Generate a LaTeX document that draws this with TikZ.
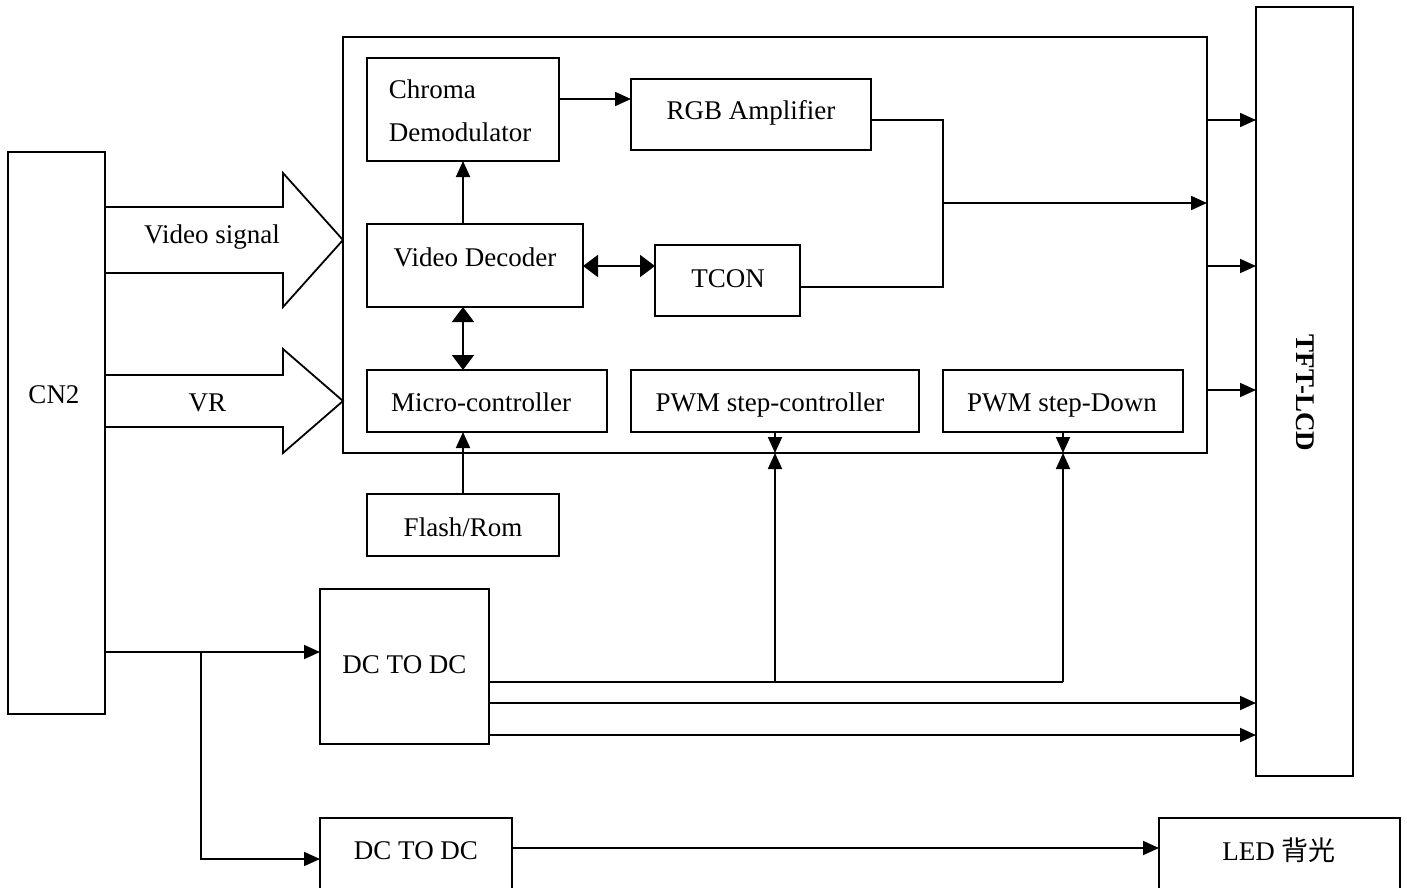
\documentclass[tikz,border=0pt]{standalone}
\usepackage{fontspec}
\setmainfont{Liberation Serif}
\newfontfamily\cjk{Noto Sans CJK SC}
\usetikzlibrary{arrows.meta}
\begin{document}
\begin{tikzpicture}[x=1pt,y=-1pt,
  line width=1.8pt,
  blk/.style={draw, rectangle, inner sep=0pt, outer sep=0pt},
  lbl/.style={font=\fontsize{27}{32}\selectfont, inner sep=0pt, anchor=base},
  arr/.style={-{Triangle[length=16pt,width=14pt]}},
  dbl/.style={{Triangle[length=15pt,width=22pt]}-{Triangle[length=15pt,width=22pt]}},
  bigarrow/.style={draw, line join=miter},
]
\clip (0,0) rectangle (1407,888);
\fill[white] (0,0) rectangle (1407,888);

% ---------- blocks ----------
\node[blk, minimum width=864pt, minimum height=416pt] (main)   at (775,245)    {};
\node[blk, minimum width=192pt, minimum height=103pt] (chroma) at (463,109.5)  {};
\node[blk, minimum width=240pt, minimum height=71pt]  (rgb)    at (751,114.5)  {};
\node[blk, minimum width=216pt, minimum height=83pt]  (vdec)   at (475,265.5)  {};
\node[blk, minimum width=145pt, minimum height=71pt]  (tcon)   at (727.5,280.5){};
\node[blk, minimum width=240pt, minimum height=62pt]  (mcu)    at (487,401)    {};
\node[blk, minimum width=288pt, minimum height=62pt]  (pwmc)   at (775,401)    {};
\node[blk, minimum width=240pt, minimum height=62pt]  (pwmd)   at (1063,401)   {};
\node[blk, minimum width=192pt, minimum height=62pt]  (flash)  at (463,525)    {};
\node[blk, minimum width=97pt,  minimum height=562pt] (cn2)    at (56.5,433)   {};
\node[blk, minimum width=97pt,  minimum height=769pt] (tft)    at (1304.5,391.5){};
\node[blk, minimum width=169pt, minimum height=155pt] (dc1)    at (404.5,666.5){};
\node[blk, minimum width=192pt, minimum height=90pt]  (dc2)    at (416,863)    {};
\node[blk, minimum width=241pt, minimum height=90pt]  (led)    at (1279.5,863) {};

% ---------- labels ----------
\node[lbl, anchor=base west] (tchroma1) at (388,99)  {Chroma};
\node[lbl, anchor=base west] (tchroma2) at (388,141) {Demodulator};
\node[lbl] (trgb)   at (751,120)   {RGB Amplifier};
\node[lbl] (tvdec)  at (475,266)   {Video Decoder};
\node[lbl] (ttcon)  at (728,287)   {TCON};
\node[lbl] (tmcu)   at (481,411)   {Micro-controller};
\node[lbl] (tpwmc)  at (770,411)   {PWM step-controller};
\node[lbl] (tpwmd)  at (1062,411)  {PWM step-Down};
\node[lbl] (tflash) at (463,536)   {Flash/Rom};
\node[lbl] (tcn2)   at (54,403)    {CN2};
\node[lbl] (tdc1)   at (404.5,673) {DC TO DC};
\node[lbl] (tdc2)   at (416,859)   {DC TO DC};
\node[lbl] (tled)   at (1279,860)  {LED {\cjk 背光}};
\node[lbl, font=\fontsize{27}{32}\selectfont\bfseries, anchor=center, rotate=-90] (ttft) at (1305,393) {TFT-LCD};

% ---------- wide input arrows from CN2 ----------
\draw[bigarrow] (cn2.east |- 0,207) -- (283,207) -- (283,173) -- (main.west |- 0,240)
  -- (283,307) -- (283,273) -- (cn2.east |- 0,273);
\draw[bigarrow] (cn2.east |- 0,375) -- (283,375) -- (283,349) -- (main.west |- 0,401)
  -- (283,453) -- (283,427) -- (cn2.east |- 0,427) -- cycle;
\node[lbl] (tvideo) at (212,243) {Video signal};
\node[lbl] (tvr)    at (207.5,411) {VR};

% ---------- signal path inside the controller ----------
\draw[arr] (chroma.east |- 0,99) -- (rgb.west |- 0,99);
\draw[arr] (vdec.north -| chroma.south) -- (chroma.south);
\draw[dbl] (vdec.east |- 0,266) -- (tcon.west |- 0,266);
\draw[dbl] (vdec.south -| chroma.south) -- (mcu.north -| chroma.south);
\draw[arr] (flash.north) -- (mcu.south -| flash.north);

\coordinate (bus) at (943,203);
\draw (rgb.east |- 0,120) -- (bus |- 0,120) -- (bus |- 0,287) -- (tcon.east |- 0,287);
\draw[arr] (bus) -- (main.east |- bus);

% ---------- controller to panel ----------
\foreach \yy in {120,266,390}
  \draw[arr] (main.east |- 0,\yy) -- (tft.west |- 0,\yy);

% ---------- power distribution ----------
\coordinate (split) at (201,652);
\draw[arr] (cn2.east |- split) -- (dc1.west |- split);
\draw[arr] (split) -- (split |- 0,859) -- (dc2.west |- 0,859);

\coordinate (rail) at (pwmd.south |- 0,682);
\draw (dc1.east |- rail) -- (rail);
\draw[arr] (rail) -- (pwmd.south |- main.south);
\draw[arr] (pwmc.south |- rail) -- (pwmc.south |- main.south);
\draw[arr] (pwmc.south) -- (pwmc.south |- main.south);
\draw[arr] (pwmd.south) -- (pwmd.south |- main.south);

\draw[arr] (dc1.east |- 0,703) -- (tft.west |- 0,703);
\draw[arr] (dc1.east |- 0,735) -- (tft.west |- 0,735);

\draw[arr] (dc2.east |- 0,848) -- (led.west |- 0,848);
\end{tikzpicture}
\end{document}
